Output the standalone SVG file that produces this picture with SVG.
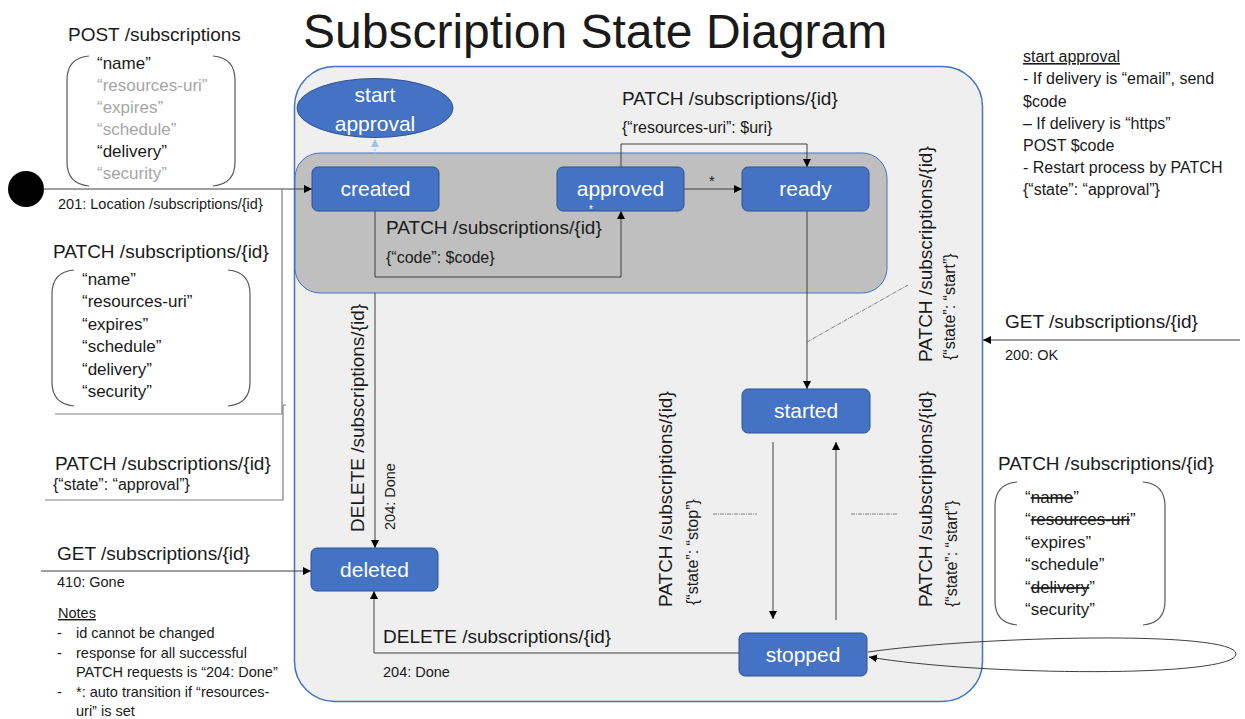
<svg xmlns="http://www.w3.org/2000/svg" width="1245" height="719" viewBox="0 0 1245 719">
<defs>
<marker id="arr" viewBox="0 0 10 10" refX="10" refY="5" markerWidth="8" markerHeight="8" markerUnits="userSpaceOnUse" orient="auto"><path d="M0,0 L10,5 L0,10 z" fill="#000"/></marker>
<marker id="arrb" viewBox="0 0 10 10" refX="10" refY="5" markerWidth="8" markerHeight="8" markerUnits="userSpaceOnUse" orient="auto"><path d="M0,0 L10,5 L0,10 z" fill="#9dc3e6"/></marker>
</defs>
<style>
text{font-family:"Liberation Sans",Arial,sans-serif;fill:#1a1a1a}
.node{fill:#4472c4;stroke:#2f528f;stroke-width:1}
.nt{fill:#fff;font-size:21px;text-anchor:middle}
.lbl{font-size:19px}
.sm{font-size:16px}
.xs{font-size:14.5px}
.fld{font-size:17px}
.gray{fill:#a6a6a6}
.edge{fill:none;stroke:#404040;stroke-width:1}
.brk{fill:none;stroke:#595959;stroke-width:1.2}
.gl{fill:none;stroke:#7f7f7f;stroke-width:1.2}
.dd{fill:none;stroke:#7f7f7f;stroke-width:1;stroke-dasharray:4 1 1 1}
</style>
<rect width="1245" height="719" fill="#fff"/>
<text x="303" y="48" style="font-size:48px">Subscription State Diagram</text>

<g id="panel">
<rect x="294.5" y="66.5" width="688" height="635" rx="40" fill="#efefef" stroke="#4472c4" stroke-width="1.5"/>
<rect x="295" y="153" width="592" height="140" rx="25" fill="#bfbfbf" stroke="#4472c4" stroke-width="1"/>
</g>

<g id="connectors">
<circle cx="26" cy="189" r="18" fill="#000"/>
<line class="edge" x1="43" y1="189" x2="312" y2="189" marker-end="url(#arr)"/>
<path class="gl" d="M55 414 H282 V189"/>
<path class="gl" d="M45 500 H283 V405 H286"/>
<line class="edge" x1="41" y1="571" x2="311" y2="571" marker-end="url(#arr)"/>
<line x1="1240" y1="340" x2="983" y2="340" class="edge" marker-end="url(#arr)"/>
<line x1="375" y1="167" x2="375" y2="139" fill="none" stroke="#9dc3e6" stroke-width="1" stroke-dasharray="2 2" marker-end="url(#arrb)"/>
<path class="edge" d="M375 211 V277 H621 V211" marker-end="url(#arr)"/>
<path class="edge" d="M621 167 V144 H807 V167" marker-end="url(#arr)"/>
<line class="edge" x1="684" y1="189" x2="742" y2="189" marker-end="url(#arr)"/>
<line class="edge" x1="807" y1="211" x2="807" y2="389" marker-end="url(#arr)"/>
<line class="dd" x1="807" y1="342" x2="908" y2="285"/>
<line class="edge" x1="375" y1="293" x2="375" y2="548" marker-end="url(#arr)"/>
<path class="edge" d="M739 653 H374 V591" marker-end="url(#arr)"/>
<line class="edge" x1="773" y1="442" x2="773" y2="619" marker-end="url(#arr)"/>
<line class="edge" x1="836" y1="620" x2="836" y2="442" marker-end="url(#arr)"/>
<line class="dd" x1="713" y1="514" x2="757" y2="514"/>
<line class="dd" x1="851" y1="514" x2="898" y2="514"/>
<path class="edge" d="M868 652 C980 636 1236 630 1236 654 C1236 678 980 676 869 657" marker-end="url(#arr)"/>
</g>

<g id="node-start-approval">
<ellipse cx="375" cy="108" rx="78" ry="29.5" class="node"/>
<text x="375" y="102" class="nt">start</text>
<text x="375" y="131" class="nt">approval</text>
</g>
<g id="node-created"><rect x="312" y="167" width="127" height="44" rx="6" class="node"/><text x="375.5" y="196" class="nt">created</text></g>
<g id="node-approved"><rect x="557" y="167" width="127" height="44" rx="6" class="node"/><text x="620.5" y="196" class="nt">approved</text></g>
<g id="node-ready"><rect x="742" y="167" width="127" height="44" rx="6" class="node"/><text x="805.5" y="196" class="nt">ready</text></g>
<g id="node-started"><rect x="742" y="389" width="128" height="44" rx="6" class="node"/><text x="806" y="418" class="nt">started</text></g>
<g id="node-stopped"><rect x="739" y="633" width="128" height="43" rx="6" class="node"/><text x="803" y="662" class="nt">stopped</text></g>
<g id="node-deleted"><rect x="311" y="548" width="127" height="43" rx="6" class="node"/><text x="374.5" y="577" class="nt">deleted</text></g>

<g id="labels">
<text x="386" y="234" class="lbl">PATCH /subscriptions/{id}</text>
<text x="386" y="263" class="sm">{“code”: $code}</text>
<text x="589" y="213" style="font-size:10px;fill:#fff">*</text>
<text x="622" y="105" class="lbl">PATCH /subscriptions/{id}</text>
<text x="622" y="133" class="sm">{“resources-uri”: $uri}</text>
<text x="709" y="186" class="xs">*</text>
<text transform="translate(932 362) rotate(-90)" class="lbl">PATCH /subscriptions/{id}</text>
<text transform="translate(955 360) rotate(-90)" class="sm">{“state”: “start”}</text>
<text transform="translate(364 532) rotate(-90)" class="lbl">DELETE /subscriptions/{id}</text>
<text transform="translate(395 530) rotate(-90)" class="xs">204: Done</text>
<text transform="translate(672 607) rotate(-90)" class="lbl">PATCH /subscriptions/{id}</text>
<text transform="translate(698 605) rotate(-90)" class="sm">{“state”: “stop”}</text>
<text transform="translate(932 607) rotate(-90)" class="lbl">PATCH /subscriptions/{id}</text>
<text transform="translate(957 607) rotate(-90)" class="sm">{“state”: “start”}</text>
<text x="383" y="643" class="lbl">DELETE /subscriptions/{id}</text>
<text x="383" y="677" class="xs">204: Done</text>
</g>

<g id="post-box">
<text x="68" y="41" class="lbl">POST /subscriptions</text>
<path class="brk" d="M89 56 Q67 58 67 80 V162 Q67 184 89 186"/>
<path class="brk" d="M213 56 Q235 58 235 80 V162 Q235 184 213 186"/>
<text x="97" y="69" class="fld">“name”</text>
<text x="97" y="91" class="fld gray">“resources-uri”</text>
<text x="97" y="113" class="fld gray">“expires”</text>
<text x="97" y="135" class="fld gray">“schedule”</text>
<text x="97" y="157" class="fld">“delivery”</text>
<text x="97" y="179" class="fld gray">“security”</text>
<text x="58" y="209" class="xs">201: Location /subscriptions/{id}</text>
</g>

<g id="patch-box">
<text x="53" y="258" class="lbl">PATCH /subscriptions/{id}</text>
<path class="brk" d="M74 270 Q52 272 52 294 V382 Q52 404 74 406"/>
<path class="brk" d="M228 270 Q250 272 250 294 V382 Q250 404 228 406"/>
<text x="82" y="285" class="fld">“name”</text>
<text x="82" y="307" class="fld">“resources-uri”</text>
<text x="82" y="330" class="fld">“expires”</text>
<text x="82" y="352" class="fld">“schedule”</text>
<text x="82" y="375" class="fld">“delivery”</text>
<text x="82" y="397" class="fld">“security”</text>
</g>

<g id="patch-approval">
<text x="55" y="470" class="lbl">PATCH /subscriptions/{id}</text>
<text x="53" y="490" class="sm">{“state”: “approval”}</text>
</g>

<g id="get-gone">
<text x="57" y="560" class="lbl">GET /subscriptions/{id}</text>
<text x="57" y="587" class="xs">410: Gone</text>
</g>

<g id="notes" class="xs">
<text x="58" y="618" class="xs" text-decoration="underline">Notes</text>
<text x="57" y="638" class="xs">-</text><text x="76" y="638" class="xs">id cannot be changed</text>
<text x="57" y="658" class="xs">-</text><text x="76" y="658" class="xs">response for all successful</text>
<text x="76" y="677" class="xs">PATCH requests is “204: Done”</text>
<text x="57" y="697" class="xs">-</text><text x="76" y="697" class="xs">*: auto transition if “resources-</text>
<text x="76" y="716" class="xs">uri” is set</text>
</g>

<g id="start-approval-note">
<text x="1023" y="62" class="sm" text-decoration="underline">start approval</text>
<text x="1023" y="84" class="sm">- If delivery is “email”, send</text>
<text x="1023" y="107" class="sm">$code</text>
<text x="1023" y="129" class="sm">– If delivery is “https”</text>
<text x="1023" y="151" class="sm">POST $code</text>
<text x="1023" y="173" class="sm">- Restart process by PATCH</text>
<text x="1023" y="195" class="sm">{“state”: “approval”}</text>
</g>

<g id="get-ok">
<text x="1005" y="328" class="lbl">GET /subscriptions/{id}</text>
<text x="1005" y="360" class="xs">200: OK</text>
</g>

<g id="patch-stopped-box">
<text x="998" y="470" class="lbl">PATCH /subscriptions/{id}</text>
<path class="brk" d="M1017 482 Q995 484 995 506 V601 Q995 623 1017 625"/>
<path class="brk" d="M1143 482 Q1165 484 1165 506 V601 Q1165 623 1143 625"/>
<text x="1025" y="503" class="fld">“<tspan text-decoration="line-through">name</tspan>”</text>
<text x="1025" y="525" class="fld">“<tspan text-decoration="line-through">resources-uri</tspan>”</text>
<text x="1025" y="548" class="fld">“expires”</text>
<text x="1025" y="570" class="fld">“schedule”</text>
<text x="1025" y="593" class="fld">“<tspan text-decoration="line-through">delivery</tspan>”</text>
<text x="1025" y="615" class="fld">“security”</text>
</g>
</svg>
